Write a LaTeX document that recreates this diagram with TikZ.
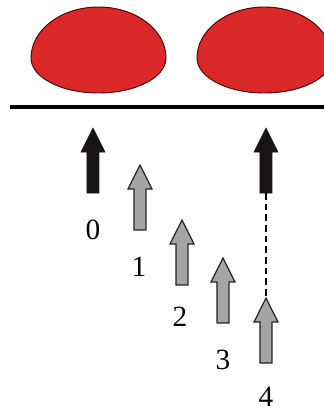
\documentclass[tikz,border=0pt]{standalone}
\usepackage{fontspec}
\setmainfont{Liberation Serif}
\definecolor{blobred}{RGB}{218,40,40}
\definecolor{arrowgray}{RGB}{165,165,165}
\definecolor{arrowblack}{RGB}{25,20,20}
\tikzset{
  pics/blockarrow/.style={code={
    \fill[#1] (0,0) -- (12,24) -- (6,24) -- (6,65) -- (-6,65) -- (-6,24) -- (-12,24) -- cycle;
    \coordinate (-tip) at (0,0);
    \coordinate (-tail) at (0,65);
  }},
  grayarrow/.style={fill=arrowgray,draw=black!85,line width=1pt,line join=miter},
  blackarrow/.style={fill=arrowblack,draw=arrowblack,line width=0.5pt},
  blob/.style={fill=blobred,draw=black!70!red,line width=0.7pt},
  numlabel/.style={font=\fontsize{22}{26}\selectfont,inner sep=0pt},
}
\begin{document}
\begin{tikzpicture}[x=0.75pt,y=-0.75pt]
\useasboundingbox (0,0) rectangle (324,412);
\clip (0,0) rectangle (324,412);
% blobs
\draw[blob] (31,58) arc[start angle=180,end angle=360,x radius=67.5,y radius=51]
            arc[start angle=0,end angle=180,x radius=67.5,y radius=35] -- cycle;
\draw[blob] (197,58) arc[start angle=180,end angle=360,x radius=67.5,y radius=51]
            arc[start angle=0,end angle=180,x radius=67.5,y radius=35] -- cycle;
% surface line
\draw[line width=2.4pt] (10,107) -- (324,107);
% arrows
\pic (a0) at (93,128) {blockarrow=blackarrow};
\pic (b1) at (140,165) {blockarrow=grayarrow};
\pic (b2) at (182,220) {blockarrow=grayarrow};
\pic (b3) at (223,258) {blockarrow=grayarrow};
\pic (b4) at (266,298) {blockarrow=grayarrow};
\pic (a4) at (266,128) {blockarrow=blackarrow};
\draw[dashed,line width=1pt,dash pattern=on 5pt off 3pt] (a4-tail) -- (b4-tip);
% labels
\node[numlabel] (l0) at (93,230) {0};
\node[numlabel] (l1) at (139,267) {1};
\node[numlabel] (l2) at (180,317) {2};
\node[numlabel] (l3) at (223,360) {3};
\node[numlabel] (l4) at (266,397) {4};
\end{tikzpicture}
\end{document}
